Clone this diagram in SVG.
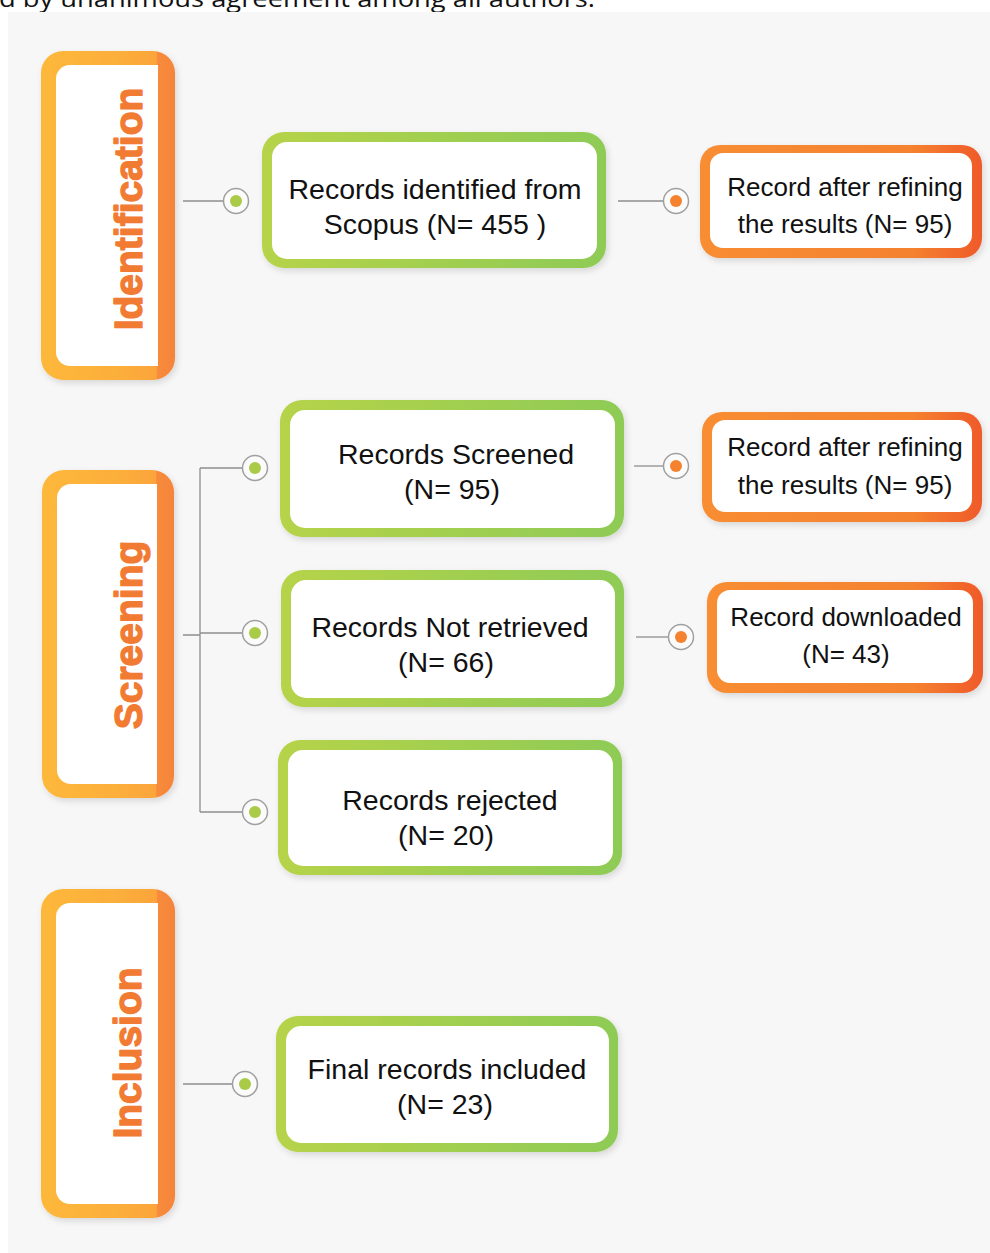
<svg xmlns="http://www.w3.org/2000/svg" width="990" height="1253" viewBox="0 0 990 1253">
<defs>
<linearGradient id="stageG" x1="0" y1="0" x2="1" y2="0">
<stop offset="0" stop-color="#fdb83a"/>
<stop offset="0.6" stop-color="#fcae3a"/>
<stop offset="0.86" stop-color="#fba43a"/>
<stop offset="0.87" stop-color="#f78b3a"/>
<stop offset="1" stop-color="#f5843a"/>
</linearGradient>
<linearGradient id="greenG" x1="0" y1="0" x2="1" y2="0">
<stop offset="0" stop-color="#b6d34a"/>
<stop offset="1" stop-color="#8ecb55"/>
</linearGradient>
<linearGradient id="orangeG" x1="0" y1="0" x2="1" y2="0">
<stop offset="0" stop-color="#f88d32"/>
<stop offset="0.75" stop-color="#f5822f"/>
<stop offset="1" stop-color="#ef5a2a"/>
</linearGradient>
<filter id="sh" x="-10%" y="-10%" width="120%" height="130%">
<feDropShadow dx="2" dy="3" stdDeviation="3" flood-color="#000" flood-opacity="0.13"/>
</filter>
</defs>
<style>
.stage{fill:url(#stageG);filter:url(#sh)}
.stin{fill:#ffffff}
.sttx{font-family:"Liberation Sans",Arial,sans-serif;font-weight:bold;font-size:39px;fill:#f27b34;stroke:#f27b34;stroke-width:1.4;stroke-linejoin:round;text-anchor:middle}
.gout{fill:url(#greenG);filter:url(#sh)}
.oout{fill:url(#orangeG);filter:url(#sh)}
.inner{fill:#ffffff}
.gt{font-family:"Liberation Sans",Arial,sans-serif;font-size:28.5px;fill:#111;text-anchor:middle}
.ot{font-family:"Liberation Sans",Arial,sans-serif;font-size:26px;fill:#111;text-anchor:middle}
.ln{stroke:#8e8e8e;stroke-width:1.3;fill:none}
.ring{fill:#fbfbfb;stroke:#a0a0a0;stroke-width:1.5}
.dg{fill:#a9cb48}
.do{fill:#f5822f}
</style>
<rect x="0" y="0" width="990" height="1253" fill="#ffffff"/>
<text x="-1" y="7" font-family="'Open Sans','Liberation Sans',sans-serif" font-size="24" fill="#111" textLength="596" lengthAdjust="spacingAndGlyphs">d by unanimous agreement among all authors.</text>
<rect x="8" y="12" width="982" height="1241" fill="#f7f7f7"/>

<g id="stage-identification">
<rect class="stage" x="41" y="51" width="134" height="329" rx="22"/>
<path class="stin" d="M70,65 H158 V366 H70 A14,14 0 0 1 56,352 V79 A14,14 0 0 1 70,65 Z"/>
<text class="sttx" transform="translate(142,209) rotate(-90)">Identification</text>
</g>
<g id="stage-screening">
<rect class="stage" x="42" y="470" width="132" height="328" rx="22"/>
<path class="stin" d="M71,484 H157 V784 H71 A14,14 0 0 1 57,770 V498 A14,14 0 0 1 71,484 Z"/>
<text class="sttx" transform="translate(142,635) rotate(-90)">Screening</text>
</g>
<g id="stage-inclusion">
<rect class="stage" x="41" y="889" width="134" height="329" rx="22"/>
<path class="stin" d="M70,903 H158 V1204 H70 A14,14 0 0 1 56,1190 V917 A14,14 0 0 1 70,903 Z"/>
<text class="sttx" transform="translate(141,1053) rotate(-90)">Inclusion</text>
</g>

<g id="connectors">
<path class="ln" d="M183,201 H223"/>
<path class="ln" d="M618,201 H663"/>
<path class="ln" d="M183,635 H200 M200,468 V812 M200,468 H242 M200,633 H242 M200,812 H242"/>
<path class="ln" d="M634,466 H663"/>
<path class="ln" d="M636,637 H668"/>
<path class="ln" d="M183,1084 H232"/>
<circle class="ring" cx="236" cy="201" r="12.5"/><circle class="dg" cx="236" cy="201" r="6"/>
<circle class="ring" cx="676" cy="201" r="12.5"/><circle class="do" cx="676" cy="201" r="6"/>
<circle class="ring" cx="255" cy="468" r="12.5"/><circle class="dg" cx="255" cy="468" r="6"/>
<circle class="ring" cx="255" cy="633" r="12.5"/><circle class="dg" cx="255" cy="633" r="6"/>
<circle class="ring" cx="255" cy="812" r="12.5"/><circle class="dg" cx="255" cy="812" r="6"/>
<circle class="ring" cx="676" cy="466" r="12.5"/><circle class="do" cx="676" cy="466" r="6"/>
<circle class="ring" cx="681" cy="637" r="12.5"/><circle class="do" cx="681" cy="637" r="6"/>
<circle class="ring" cx="245" cy="1084" r="12.5"/><circle class="dg" cx="245" cy="1084" r="6"/>
</g>

<g id="node-identified">
<rect class="gout" x="262" y="132" width="344" height="136" rx="22"/>
<rect class="inner" x="272" y="142" width="325" height="117" rx="15"/>
<text class="gt" x="435" y="199">Records identified from</text>
<text class="gt" x="435" y="234">Scopus (N= 455 )</text>
</g>
<g id="node-refined-1">
<rect class="oout" x="700" y="145" width="282" height="113" rx="20"/>
<rect class="inner" x="710" y="153" width="262" height="95" rx="13"/>
<text class="ot" x="845" y="196">Record after refining</text>
<text class="ot" x="845" y="233">the results (N= 95)</text>
</g>
<g id="node-screened">
<rect class="gout" x="280" y="400" width="344" height="137" rx="22"/>
<rect class="inner" x="290" y="410" width="325" height="118" rx="15"/>
<text class="gt" x="456" y="464">Records Screened</text>
<text class="gt" x="452" y="499">(N= 95)</text>
</g>
<g id="node-refined-2">
<rect class="oout" x="702" y="412" width="280" height="110" rx="20"/>
<rect class="inner" x="712" y="420" width="260" height="92" rx="13"/>
<text class="ot" x="845" y="456">Record after refining</text>
<text class="ot" x="845" y="494">the results (N= 95)</text>
</g>
<g id="node-not-retrieved">
<rect class="gout" x="281" y="570" width="343" height="137" rx="22"/>
<rect class="inner" x="291" y="580" width="324" height="118" rx="15"/>
<text class="gt" x="450" y="637">Records Not retrieved</text>
<text class="gt" x="446" y="672">(N= 66)</text>
</g>
<g id="node-downloaded">
<rect class="oout" x="707" y="582" width="276" height="111" rx="20"/>
<rect class="inner" x="717" y="590" width="256" height="93" rx="13"/>
<text class="ot" x="846" y="626">Record downloaded</text>
<text class="ot" x="846" y="663">(N= 43)</text>
</g>
<g id="node-rejected">
<rect class="gout" x="278" y="740" width="344" height="135" rx="22"/>
<rect class="inner" x="288" y="750" width="325" height="116" rx="15"/>
<text class="gt" x="450" y="810">Records rejected</text>
<text class="gt" x="446" y="845">(N= 20)</text>
</g>
<g id="node-included">
<rect class="gout" x="276" y="1016" width="342" height="136" rx="22"/>
<rect class="inner" x="286" y="1026" width="323" height="117" rx="15"/>
<text class="gt" x="447" y="1079">Final records included</text>
<text class="gt" x="445" y="1114">(N= 23)</text>
</g>
</svg>
